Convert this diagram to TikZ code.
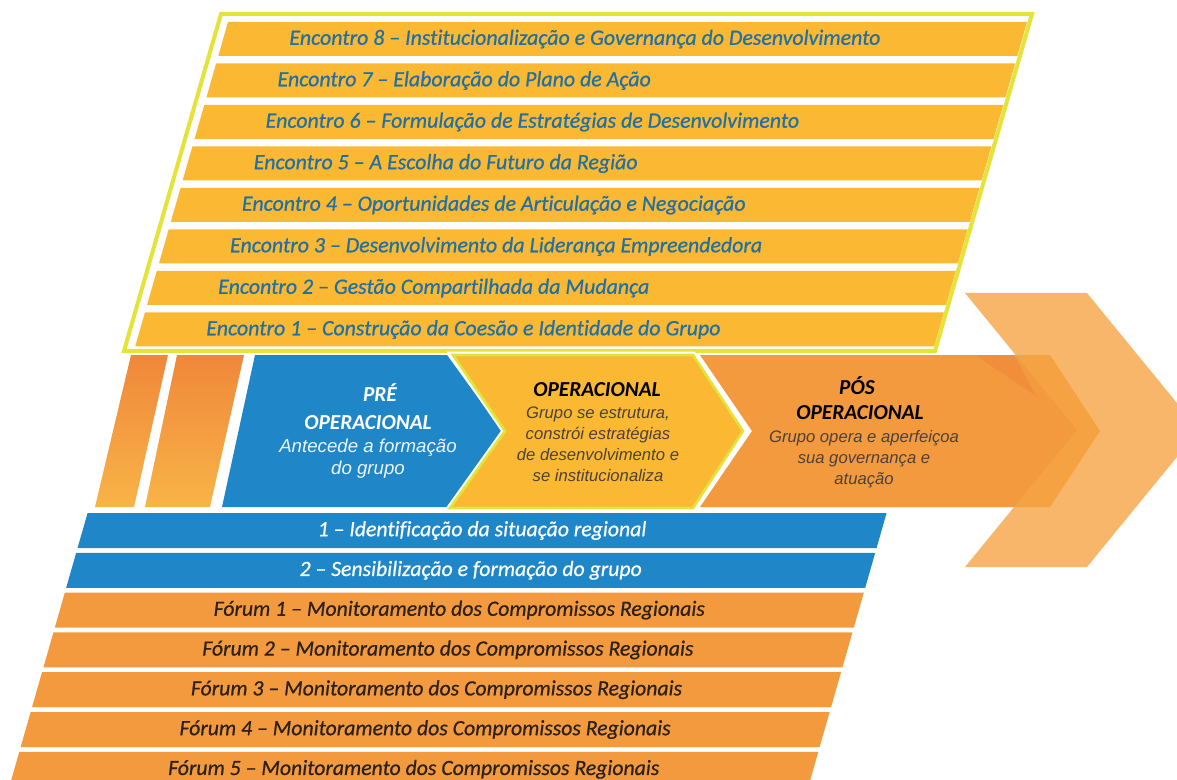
\documentclass[tikz,border=0pt]{standalone}
\usepackage{fontspec}
\setmainfont{Carlito}
\newfontfamily\barfont{Carlito}[FakeBold=0.6, Ligatures={TeX,NoCommon}]
\newfontfamily\arialfont{Liberation Sans}
\usepackage{tikz}
\usetikzlibrary{positioning,calc}
\definecolor{gold}{HTML}{FBB832}
\definecolor{lime}{HTML}{E3E338}
\definecolor{sky}{HTML}{1F86C8}
\definecolor{amber}{HTML}{F39A3E}
\definecolor{ember}{HTML}{F0873B}
\definecolor{honey}{HTML}{F8B447}
\definecolor{flare}{HTML}{F6A445}
\definecolor{ink}{HTML}{1F70A6}
\definecolor{dusk}{HTML}{2B2118}

\begin{document}
\begin{tikzpicture}[x=0.75pt, y=-0.75pt,
  declare function={xl(\v)=228-0.286*(\v-22); xr(\v)=1027-0.286*(\v-22);},
  enc/.style={anchor=west, inner sep=0pt, text=ink, font=\barfont\itshape\fontsize{16.4}{19}\selectfont},
  row/.style={inner sep=0pt, font=\barfont\itshape\fontsize{16.3}{19}\selectfont},
  head/.style={inner sep=0pt, font=\bfseries\itshape\fontsize{16}{19}\selectfont},
  note/.style={inner sep=0pt, align=center, text=dusk!85, font=\arialfont\itshape\fontsize{12.5}{15.75}\selectfont},
  stripe/.style={top color=ember, bottom color=honey},
  opbox/.style={fill=gold, draw=lime, line width=2pt, preaction={draw=white, line width=5pt}}]
\useasboundingbox (0,0) rectangle (1177,780);
\clip (0,0) rectangle (1177,780);
% top: the eight meetings inside the lime frame
\foreach \k/\txt [evaluate=\k as \t using {22+41.5*(8-\k)}] in {8/{Institucionalização e Governança do Desenvolvimento}, 7/{Elaboração do Plano de Ação}, 6/{Formulação de Estratégias de Desenvolvimento}, 5/{A Escolha do Futuro da Região}, 4/{Oportunidades de Articulação e Negociação}, 3/{Desenvolvimento da Liderança Empreendedora}, 2/{Gestão Compartilhada da Mudança}, 1/{Construção da Coesão e Identidade do Grupo}} {
  \fill[gold] ({xl(\t)},\t) -- ({xr(\t)},\t) -- ({xr(\t+34)},\t+34) -- ({xl(\t+34)},\t+34) -- cycle;
  \node[enc] (enc\k) at ({xl(\t+17)+66},\t+17) {Encontro \k\ – \txt};
}
\draw[lime, line width=3pt] (221,14) -- (1032,14) -- (935,351) -- (124,351) -- cycle;
% middle: stripes, phase chevrons and the big arrow
\shade[stripe] (131,355) -- (168,355) -- (134,507) -- (95,507) -- cycle;
\shade[stripe] (177,355) -- (244,355) -- (210,507) -- (145,507) -- cycle;
\fill[sky] (255,355) -- (447,355) -- (502,431) -- (447,507) -- (222,507) -- cycle;
\fill[amber] (700,355) -- (1050,355) -- (1100,431) -- (1050,507) -- (700,507) -- (752,431) -- cycle;
\fill[ember, opacity=0.6] (975,355) -- (1014,355) -- (1036,396) -- cycle;
\path[opbox] (453,355) -- (693,355) -- (743,431) -- (693,508) -- (450,508) -- (505,431) -- cycle;
\fill[flare, opacity=0.8] (965,293) -- (1087,293) -- (1199,430) -- (1087,567) -- (965,567) -- (1077,430) -- cycle;
\node[head, text=white] (pre) at (380,393) {PRÉ};
\node[head, text=white] (preop) at (368,423) {OPERACIONAL};
\node[note, text=white!92!sky, font=\arialfont\itshape\fontsize{14}{16.5}\selectfont] (prenote) at (368,459) {Antecede a formação\\do grupo};
\node[head] (op) at (597,390) {OPERACIONAL};
\node[note] (opnote) at (598,444) {Grupo se estrutura,\\constrói estratégias\\de desenvolvimento e\\se institucionaliza};
\node[head] (pos) at (857,386) {PÓS};
\node[head] (posop) at (860,413) {OPERACIONAL};
\node[note] (posnote) at (864,459) {Grupo opera e aperfeiçoa\\sua governança e\\atuação};
% bottom: the two preparation steps and the five forums
\foreach \i/\txt in {0/{1 – Identificação da situação regional}, 1/{2 – Sensibilização e formação do grupo}} {
  \pgfmathsetmacro{\t}{513+39.8*\i}
  \fill[sky] ({xl(\t)},\t) -- ({xr(\t)},\t) -- ({xr(\t+35)},\t+35) -- ({xl(\t+35)},\t+35) -- cycle;
  \node[row, text=white] (step\i) at ({(xl(\t+17.5)+xr(\t+17.5))/2},\t+17.5) {\txt};
}
\foreach \i in {1,...,5} {
  \pgfmathsetmacro{\t}{513+39.8*(\i+1)}
  \fill[amber] ({xl(\t)},\t) -- ({xr(\t)},\t) -- ({xr(\t+35)},\t+35) -- ({xl(\t+35)},\t+35) -- cycle;
  \node[row, text=dusk] (forum\i) at ({(xl(\t+17.5)+xr(\t+17.5))/2},\t+17.5) {Fórum \i\ – Monitoramento dos Compromissos Regionais};
}
\end{tikzpicture}
\end{document}
